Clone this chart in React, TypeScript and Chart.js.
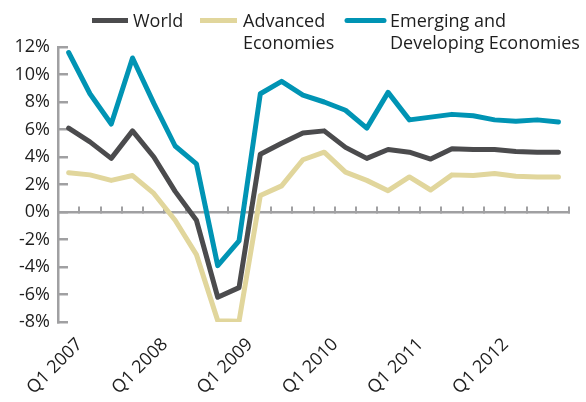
import { useEffect, useRef } from "react";
import { Chart, registerables } from "chart.js";

Chart.register(...registerables);

const categories = [
  "Q1 2007", "Q2 2007", "Q3 2007", "Q4 2007",
  "Q1 2008", "Q2 2008", "Q3 2008", "Q4 2008",
  "Q1 2009", "Q2 2009", "Q3 2009", "Q4 2009",
  "Q1 2010", "Q2 2010", "Q3 2010", "Q4 2010",
  "Q1 2011", "Q2 2011", "Q3 2011", "Q4 2011",
  "Q1 2012", "Q2 2012", "Q3 2012", "Q4 2012",
];
const shownLabels = ["Q1 2007", "Q1 2008", "Q1 2009", "Q1 2010", "Q1 2011", "Q1 2012"];

const world = [6.1, 5.1, 3.9, 5.9, 4.0, 1.5, -0.6, -6.2, -5.5, 4.2, 5.0, 5.75, 5.9, 4.7, 3.9, 4.55, 4.35, 3.85, 4.6, 4.55, 4.55, 4.4, 4.35, 4.35];
const advanced = [2.85, 2.7, 2.3, 2.65, 1.35, -0.6, -3.1, -7.9, -7.95, 1.2, 1.9, 3.8, 4.35, 2.9, 2.3, 1.55, 2.55, 1.6, 2.7, 2.65, 2.8, 2.6, 2.55, 2.55];
const emerging = [11.6, 8.6, 6.4, 11.2, 7.9, 4.8, 3.5, -3.9, -2.1, 8.6, 9.5, 8.5, 8.0, 7.4, 6.1, 8.7, 6.7, 6.9, 7.1, 7.0, 6.7, 6.6, 6.7, 6.55];

const seriesNames = [["World"], ["Advanced", "Economies"], ["Emerging and", "Developing Economies"]];

const yMin = -8;
const yMax = 12;
const yStep = 2;

const COLORS = {
  world: "#4b4b4d",
  advanced: "#e1d69c",
  emerging: "#0094b4",
  axis: "#a0a0a2",
  text: "#1e1e1e",
};
const FONT = "'Open Sans', 'Noto Sans', sans-serif";

const legendLayout = [
  { swatchX: 92, swatchW: 36, textX: 133, cap: "butt" as CanvasLineCap },
  { swatchX: 200, swatchW: 37, textX: 243, cap: "butt" as CanvasLineCap },
  { swatchX: 347, swatchW: 37, textX: 390, cap: "round" as CanvasLineCap },
];

const legendPlugin = {
  id: "customLegend",
  afterDraw(chart: any) {
    const ctx = chart.ctx as CanvasRenderingContext2D;
    ctx.save();
    ctx.font = `18px ${FONT}`;
    ctx.textBaseline = "alphabetic";
    ctx.textAlign = "left";
    chart.data.datasets.forEach((ds: any, i: number) => {
      const l = legendLayout[i];
      ctx.strokeStyle = ds.borderColor;
      ctx.lineWidth = 5;
      ctx.lineCap = l.cap;
      ctx.beginPath();
      ctx.moveTo(l.swatchX, 20.5);
      ctx.lineTo(l.swatchX + l.swatchW, 20.5);
      ctx.stroke();
      ctx.fillStyle = COLORS.text;
      seriesNames[i].forEach((line, j) => {
        ctx.fillText(line, l.textX, 27 + j * 21.5);
      });
    });
    ctx.restore();
  },
};

export default function App() {
  const ref = useRef<HTMLCanvasElement | null>(null);

  useEffect(() => {
    document.body.style.margin = "0";
    if (!ref.current) return;
    const chart = new Chart(ref.current, {
      type: "line",
      data: {
        labels: categories,
        datasets: [
          { label: seriesNames[0].join(" "), data: world, borderColor: COLORS.world, backgroundColor: COLORS.world },
          { label: seriesNames[1].join(" "), data: advanced, borderColor: COLORS.advanced, backgroundColor: COLORS.advanced },
          { label: seriesNames[2].join(" "), data: emerging, borderColor: COLORS.emerging, backgroundColor: COLORS.emerging },
        ].map((d) => ({
          ...d,
          borderWidth: 5,
          pointRadius: 0,
          pointHoverRadius: 0,
          tension: 0,
          fill: false,
          borderJoinStyle: "round" as CanvasLineJoin,
          borderCapStyle: "round" as CanvasLineCap,
          xAxisID: "x",
          yAxisID: "y",
        })),
      },
      options: {
        animation: false,
        responsive: false,
        maintainAspectRatio: false,
        layout: { padding: { top: 47, right: 13, left: 0, bottom: 0 } },
        plugins: {
          legend: { display: false },
          tooltip: { enabled: false },
        },
        scales: {
          x: {
            type: "category",
            position: "bottom",
            offset: true,
            grid: { display: false, drawTicks: false },
            border: { display: false },
            ticks: {
              autoSkip: false,
              minRotation: 45,
              maxRotation: 45,
              padding: 12,
              labelOffset: 11,
              color: COLORS.text,
              font: { family: FONT, size: 18 },
              callback: (_v: any, i: number) => (shownLabels.includes(categories[i]) ? categories[i] : ""),
            },
            afterFit: (s: any) => {
              s.height = 80;
            },
          },
          x0: {
            type: "category",
            position: { y: 0 },
            offset: true,
            grid: {
              offset: true,
              drawOnChartArea: false,
              drawTicks: true,
              tickLength: -7,
              color: COLORS.axis,
              lineWidth: 2,
            },
            border: { display: true, color: COLORS.axis, width: 2.5 },
            ticks: { display: false },
          },
          y: {
            type: "linear",
            position: "left",
            min: yMin,
            max: yMax,
            grid: {
              drawOnChartArea: false,
              drawTicks: true,
              tickLength: -10,
              color: COLORS.axis,
              lineWidth: 2.5,
            },
            border: { display: true, color: COLORS.axis, width: 2.5 },
            ticks: {
              stepSize: yStep,
              padding: 18,
              color: COLORS.text,
              font: { family: FONT, size: 18 },
              callback: (v: any) => `${v}%`,
            },
            afterFit: (s: any) => {
              s.width = 58;
            },
          },
        },
      },
      plugins: [legendPlugin],
    });
    return () => chart.destroy();
  }, []);

  return (
    <div style={{ width: 586, height: 402 }}>
      <canvas ref={ref} width={586} height={402} style={{ display: "block", width: 586, height: 402 }} />
    </div>
  );
}
